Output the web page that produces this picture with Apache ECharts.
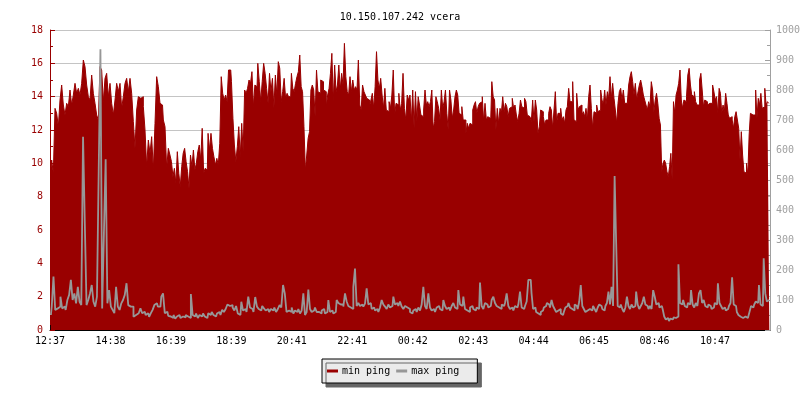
<!DOCTYPE html>
<html>
<head>
<meta charset="utf-8">
<script src="https://cdn.jsdelivr.net/npm/echarts@6/dist/echarts.min.js"></script>
<style>html,body{margin:0;padding:0;background:#fff}#c{width:800px;height:400px}</style>
</head>
<body>
<div id="c"></div>
<script>
const chartTitle = '10.150.107.242 vcera';
const tickLabels = ['12:37','14:38','16:39','18:39','20:41','22:41','00:42','02:43','04:44','06:45','08:46','10:47'];
const seriesNames = ['min ping', 'max ping'];
// span of the chart: 24 h in minutes, split in six 4-hour blocks
const totalMinutes = 1440;
const blockMinutes = 240;

// min ping (ms, left axis), per 4-hour block
const minBlock1 = [9.6,10.2,9.4,13.3,13.0,12.2,13.8,14.7,13.5,12.9,13.6,13.4,14.4,13.5,14.1,14.8,14.2,14.5,14.1,14.8,16.2,15.8,14.7,14.0,13.8,15.3,14.2,13.6,12.9,12.6,15.8,15.6,13.7,15.1,15.4,14.0,14.8,13.6,12.9,13.8,14.8,14.3,14.8,13.3,14.0,14.8,15.1,14.3,15.1,14.2,12.5,10.9,13.2,14.0,13.9,14.0,13.4,12.0,9.8,11.4,10.6,11.6,9.6,12.4,15.2,14.6,13.6,13.5,12.6,12.2,9.7,10.9];
const minBlock2 = [10.5,10.1,9.2,9.7,8.8,10.7,9.4,8.6,9.8,10.6,10.9,10.1,9.5,8.5,10.5,9.8,10.8,9.6,10.0,10.7,11.1,10.2,12.1,9.4,9.7,9.6,11.8,10.8,11.8,10.9,10.4,9.9,10.3,9.9,11.2,15.2,14.2,13.8,14.1,13.7,15.6,15.6,14.9,12.7,11.1,10.1,11.0,12.2,10.4,12.4,10.7,14.4,14.2,14.5,15.0,14.8,15.5,13.4,14.7,14.6,16.0,14.9,13.7,14.9,16.0,15.4,14.5,13.6,15.4,14.3,15.1,13.3,15.3,14.1,16.1,15.7,13.7,14.3,15.1,13.9,14.2,14.0];
const minBlock3 = [14.0,15.4,14.5,14.3,14.8,15.2,15.5,16.5,14.6,14.3,12.2,9.6,10.5,11.5,11.9,14.4,14.7,14.4,12.8,15.6,14.3,14.2,15.0,14.9,14.4,14.3,13.4,14.1,14.5,15.4,16.6,13.7,15.9,14.3,14.7,15.9,14.4,15.4,14.7,17.2,15.2,14.3,14.1,15.2,14.3,15.0,14.4,14.6,14.4,16.2,13.5,13.2,14.7,14.3,14.1,13.9,13.8,13.4,13.8,14.2,13.3,14.6,16.7,15.0,14.5,15.1,14.1,13.3,14.5,13.2,13.1,13.7,13.3,14.1,15.6,12.9,13.6,13.5,14.2,13.2,13.6,15.4,13.3,12.6,14.1,13.8];
const minBlock4 = [14.1,12.5,14.4,12.1,14.3,12.5,14.0,13.5,12.9,12.8,13.2,14.4,13.5,13.7,13.4,13.7,14.4,12.1,12.5,14.0,13.7,13.3,12.6,14.4,13.3,13.7,14.4,13.0,12.0,14.4,13.8,12.7,13.2,14.0,14.4,14.1,13.0,12.9,13.4,12.6,12.6,11.8,12.4,12.1,12.4,12.3,13.2,13.5,13.7,13.0,13.4,13.6,13.7,14.0,12.5,13.6,12.6,12.8,12.7,12.1,14.9,14.0,13.8,12.0,13.3,12.4,13.3,13.0,14.0,13.1,13.6,13.4,12.8,13.3,13.4,13.9,13.3,13.5,12.9,12.5,13.0,13.8,13.4,13.3,13.9,13.7,12.9,12.8];
const minBlock5 = [12.9,12.5,13.8,12.5,13.8,13.2,11.8,12.2,13.2,13.1,12.8,12.3,12.6,12.6,13.0,13.4,13.2,12.1,13.2,14.3,12.4,13.0,13.0,13.3,12.6,12.8,12.4,13.2,13.4,14.5,13.7,13.7,14.9,12.6,12.5,14.2,13.2,13.4,13.5,12.9,13.1,12.8,13.3,12.6,14.0,14.7,13.3,12.1,13.1,13.0,13.5,13.1,13.2,14.4,13.8,13.5,14.4,13.5,14.3,13.9,15.2,13.9,14.8,13.9,13.2,12.4,13.6,14.3,14.5,13.8,14.4,13.6,13.6,13.6,14.7,15.2,15.5,14.9,14.1,14.8,13.8,14.3,14.7,15.0,14.6,14.1,13.8,13.5,13.2,13.7];
const minBlock6 = [13.4,14.9,14.4,13.1,13.8,14.2,13.6,12.7,12.3,9.5,10.0,10.2,10.0,9.5,9.2,9.8,10.6,9.0,13.7,13.0,14.1,14.4,14.8,15.6,13.8,13.3,13.8,13.7,14.0,15.3,15.7,14.7,14.1,14.0,14.3,13.7,13.5,13.5,15.0,15.4,14.4,13.4,13.8,13.7,13.5,13.6,13.5,13.6,14.7,14.3,13.8,14.0,13.0,14.5,14.2,13.0,13.5,13.1,14.2,13.6,12.9,12.7,12.8,12.6,12.1,12.8,13.1,12.6,12.1,10.2,11.9,10.5,9.5,9.4,10.0,9.3,11.7,13.0,12.9,12.8,12.9,14.4,12.7,13.9,13.5,14.2,13.3,13.4,14.5,13.5,13.7,13.6];

// max ping (ms, right axis), per 4-hour block
const maxBlock1 = [50,78,178,67,72,78,111,72,78,67,100,117,167,100,122,89,144,94,83,644,361,83,100,122,150,94,78,111,528,936,72,322,569,89,133,78,67,56,144,78,67,89,100,117,156,83,78,78,44,50,56,56,72,56,61,50,56,44,56,67,83,89,78,78,111,122,56,61,47];
const maxBlock2 = [45,40,50,38,45,50,40,45,42,50,45,40,120,50,45,55,40,50,45,55,45,40,56,50,60,50,45,55,60,50,67,60,70,85,80,83,75,65,80,55,50,94,65,70,60,111,75,70,60,110,78,70,65,80,72,65,70,60,70,65,75,60,70,83,75,150,122,60,65];
const maxBlock3 = [60,75,55,65,60,70,55,65,122,50,60,135,70,60,65,75,60,60,55,65,70,55,60,100,60,65,55,60,100,90,85,85,78,122,95,80,75,70,144,205,80,90,80,85,78,88,139,85,90,70,75,65,70,60,75,100,85,78,70,85,75,80,111,85,90,80,95,78,70,80,75,70];
const maxBlock4 = [60,55,65,70,60,75,65,85,144,80,70,122,75,65,70,60,75,80,70,65,100,80,70,75,65,80,90,75,70,133,85,80,111,70,65,60,75,80,70,65,75,70,158,80,70,90,85,75,80,100,111,90,80,75,70,85,80,90,122,80,70,75,65,80,75,85,128,75,70,80,95,167];
const maxBlock5 = [167,122,70,75,60,55,50,60,65,75,80,90,85,75,100,80,70,60,65,70,55,50,60,75,80,90,75,70,65,85,80,70,95,150,80,70,60,65,70,75,65,80,70,60,75,85,80,70,65,80,90,128,85,144,80,513,291,80,75,85,70,60,75,111,80,70,85,75,80,128,85,70,80,90,111,85,80,70];
const maxBlock6 = [80,70,133,111,85,90,75,80,70,45,35,40,30,38,35,42,40,45,219,90,85,100,80,75,90,85,133,85,75,90,80,122,133,90,100,80,75,85,80,70,75,90,85,156,90,80,70,75,65,70,80,90,176,85,80,60,50,44,40,38,45,40,42,60,80,75,85,95,90,150,85,80,239,122,95,100];

function toTimeSeries(blocks) {
  const out = [];
  blocks.forEach((b, k) => {
    const step = blockMinutes / b.length;
    b.forEach((v, i) => out.push([k * blockMinutes + (i + 0.5) * step, v]));
  });
  return out;
}
const minData = toTimeSeries([minBlock1, minBlock2, minBlock3, minBlock4, minBlock5, minBlock6]);
const maxData = toTimeSeries([maxBlock1, maxBlock2, maxBlock3, maxBlock4, maxBlock5, maxBlock6]);

const FONT = 'DejaVu Sans Mono';
const RED = '#990000';
const GRAY = '#979797';
const tickStep = 1330 / 11;

const chart = echarts.init(document.getElementById('c'), null, {renderer: 'canvas'});
chart.setOption({
  animation: false,
  backgroundColor: '#ffffff',
  title: {
    text: chartTitle, left: 'center', top: 7,
    textStyle: {fontFamily: FONT, fontSize: 10, fontWeight: 'normal', color: '#000'}
  },
  legend: {
    data: [{name: seriesNames[0], icon: 'rect'}, {name: seriesNames[1], icon: 'rect'}],
    left: 322, top: 359,
    orient: 'horizontal',
    itemWidth: 11, itemHeight: 3, itemGap: 6,
    padding: [6, 18, 6, 5],
    backgroundColor: '#ebebeb',
    borderColor: '#000', borderWidth: 1, borderRadius: 0,
    shadowColor: '#666666', shadowBlur: 0, shadowOffsetX: 4, shadowOffsetY: 4,
    textStyle: {fontFamily: FONT, fontSize: 10, color: '#000', lineHeight: 12, padding: [0,0,0,-1]}
  },
  grid: {left: 50, right: 30, top: 30, bottom: 70, containLabel: false, outerBoundsMode: 'none'},
  xAxis: {
    type: 'value', min: 0, max: totalMinutes, interval: tickStep,
    axisLine: {show: true, lineStyle: {color: '#000', width: 1}},
    axisTick: {show: true, inside: true, length: 5, lineStyle: {color: '#000'}},
    axisLabel: {
      fontFamily: FONT, fontSize: 10, color: '#000', margin: 6,
      showMaxLabel: false,
      formatter: (val) => {
        const idx = Math.round(val / tickStep);
        return (Math.abs(idx * tickStep - val) < 0.5 && idx < tickLabels.length) ? tickLabels[idx] : '';
      }
    },
    splitLine: {show: false}
  },
  yAxis: [{
    type: 'value', min: 0, max: 18, interval: 2, position: 'left',
    axisLine: {show: true, lineStyle: {color: RED}},
    axisTick: {show: true, inside: true, length: 5, lineStyle: {color: RED}},
    minorTick: {show: true, splitNumber: 2, length: 3, lineStyle: {color: RED}},
    axisLabel: {fontFamily: FONT, fontSize: 10, color: RED, margin: 7},
    splitLine: {show: true, lineStyle: {color: '#c4c4c4', width: 1}}
  }, {
    type: 'value', min: 0, max: 1000, interval: 100, position: 'right',
    axisLine: {show: true, lineStyle: {color: '#a0a0a0'}},
    axisTick: {show: true, inside: true, length: 5, lineStyle: {color: '#a0a0a0'}},
    minorTick: {show: true, splitNumber: 2, length: 3, lineStyle: {color: '#a0a0a0'}},
    axisLabel: {fontFamily: FONT, fontSize: 10, color: '#a0a0a0', margin: 6, formatter: (v) => String(v)},
    splitLine: {show: false}
  }],
  series: [{
    name: seriesNames[0], type: 'line', yAxisIndex: 0, data: minData,
    step: 'middle', showSymbol: false, symbol: 'none',
    lineStyle: {color: RED, width: 1}, itemStyle: {color: RED},
    areaStyle: {color: RED, opacity: 1}
  }, {
    name: seriesNames[1], type: 'line', yAxisIndex: 1, data: maxData,
    step: 'middle', showSymbol: false, symbol: 'none',
    lineStyle: {color: GRAY, width: 1.8}, itemStyle: {color: GRAY}
  }]
});
</script>
</body>
</html>
